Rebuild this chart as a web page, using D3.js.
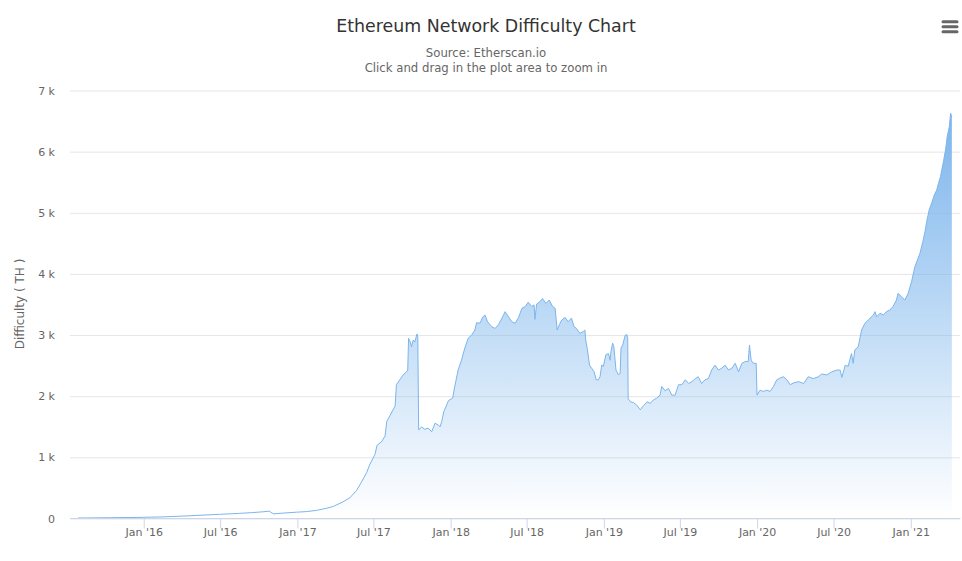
<!DOCTYPE html>
<html>
<head>
<meta charset="utf-8">
<script src="https://cdn.jsdelivr.net/npm/d3@7"></script>
<style>
  html, body { margin: 0; padding: 0; background: #fff; }
  svg { display: block; font-family: "DejaVu Sans", Verdana, Arial, sans-serif; }
</style>
</head>
<body>
<svg id="chart" width="962" height="561"></svg>
<script>
// ---- data (difficulty in TH) ----
const dates = [
  "2015-07-30","2015-09-01","2015-10-15","2015-12-01","2016-01-01","2016-02-15","2016-04-01","2016-05-15",
  "2016-07-01","2016-08-15","2016-09-15","2016-10-10","2016-10-27","2016-11-06","2016-11-29","2016-12-31",
  "2017-01-24","2017-02-17","2017-03-13","2017-03-29","2017-04-21","2017-05-07","2017-05-23","2017-06-04",
  "2017-06-16","2017-06-24","2017-07-06","2017-07-11","2017-07-22","2017-07-30","2017-08-03","2017-08-11",
  "2017-08-18","2017-08-23","2017-08-26","2017-09-03","2017-09-11","2017-09-19","2017-09-22","2017-09-24",
  "2017-09-28","2017-10-01","2017-10-05","2017-10-09","2017-10-14","2017-10-16","2017-10-18","2017-10-25",
  "2017-11-02","2017-11-10","2017-11-18","2017-11-26","2017-12-04","2017-12-08","2017-12-12","2017-12-17",
  "2017-12-24","2017-12-28","2018-01-07","2018-01-12","2018-01-20","2018-01-28","2018-02-05","2018-02-13",
  "2018-02-21","2018-03-01","2018-03-05","2018-03-13","2018-03-20","2018-03-25","2018-03-31","2018-04-10",
  "2018-04-18","2018-04-26","2018-05-06","2018-05-12","2018-05-20","2018-05-28","2018-06-05","2018-06-13",
  "2018-06-21","2018-06-29","2018-07-06","2018-07-14","2018-07-20","2018-07-22","2018-07-26","2018-08-03",
  "2018-08-09","2018-08-17","2018-08-25","2018-09-02","2018-09-08","2018-09-13","2018-09-18","2018-09-24",
  "2018-10-02","2018-10-09","2018-10-17","2018-10-23","2018-10-29","2018-11-06","2018-11-14","2018-11-18",
  "2018-11-20","2018-11-24","2018-11-29","2018-12-04","2018-12-10","2018-12-15","2018-12-20","2018-12-24",
  "2018-12-28","2019-01-01","2019-01-07","2019-01-13","2019-01-17","2019-01-19","2019-01-23","2019-01-26",
  "2019-01-31","2019-02-06","2019-02-10","2019-02-12","2019-02-16","2019-02-22","2019-02-26","2019-02-28",
  "2019-03-01","2019-03-07","2019-03-13","2019-03-21","2019-03-30","2019-04-07","2019-04-15","2019-04-23",
  "2019-04-30","2019-05-08","2019-05-16","2019-05-20","2019-05-28","2019-06-05","2019-06-13","2019-06-21",
  "2019-06-29","2019-07-07","2019-07-15","2019-07-23","2019-07-31","2019-08-08","2019-08-15","2019-08-23",
  "2019-08-31","2019-09-08","2019-09-16","2019-09-24","2019-10-02","2019-10-10","2019-10-18","2019-10-26",
  "2019-11-03","2019-11-11","2019-11-19","2019-11-27","2019-12-05","2019-12-12","2019-12-15","2019-12-19",
  "2019-12-24","2019-12-31","2020-01-02","2020-01-09","2020-01-17","2020-01-25","2020-02-02","2020-02-10",
  "2020-02-18","2020-02-26","2020-03-05","2020-03-13","2020-03-21","2020-03-29","2020-04-10","2020-04-22",
  "2020-05-03","2020-05-15","2020-05-27","2020-06-04","2020-06-16","2020-06-28","2020-07-10","2020-07-18",
  "2020-07-22","2020-07-30","2020-08-06","2020-08-14","2020-08-18","2020-08-22","2020-08-30","2020-09-07",
  "2020-09-15","2020-09-23","2020-10-05","2020-10-09","2020-10-13","2020-10-21","2020-10-29","2020-11-05",
  "2020-11-13","2020-11-21","2020-11-29","2020-12-03","2020-12-11","2020-12-19","2020-12-27","2021-01-04",
  "2021-01-12","2021-01-18","2021-01-24","2021-01-31","2021-02-05","2021-02-09","2021-02-15","2021-02-21",
  "2021-02-27","2021-03-05","2021-03-09","2021-03-14","2021-03-21","2021-03-26","2021-03-30","2021-04-04",
  "2021-04-07","2021-04-10"
];
const difficulty = [
  0,2,5,8,11,18,30,45,
  60,75,88,100,112,68,80,95,
  105,125,160,190,265,330,450,590,
  740,880,1040,1190,1250,1340,1580,1680,
  1770,1830,2180,2260,2340,2390,2420,2940,
  2880,2800,2910,2880,3010,2970,1440,1490,
  1450,1470,1410,1550,1520,1490,1580,1740,
  1850,1920,1960,2150,2420,2580,2780,2940,
  2990,3075,3195,3185,3290,3320,3210,3130,
  3100,3160,3290,3375,3290,3210,3185,3280,
  3430,3460,3530,3460,3485,3250,3500,3540,
  3590,3510,3565,3460,3430,3075,3160,3240,
  3280,3210,3270,3130,3100,3020,3050,3075,
  2910,2750,2500,2450,2390,2260,2260,2310,
  2500,2480,2670,2690,2580,2720,2860,2800,
  2420,2340,2370,2780,2830,2990,3000,2940,
  1950,1900,1890,1850,1770,1840,1900,1875,
  1930,1960,2010,2150,2080,2120,2010,2010,
  2180,2180,2260,2200,2230,2280,2310,2200,
  2260,2280,2420,2500,2420,2450,2500,2420,
  2450,2530,2390,2530,2560,2560,2830,2580,
  2530,2530,2010,2090,2070,2090,2070,2150,
  2260,2290,2310,2260,2180,2210,2230,2200,
  2310,2280,2310,2355,2340,2390,2420,2420,
  2300,2500,2480,2690,2530,2750,2800,3075,
  3185,3240,3320,3375,3290,3350,3320,3375,
  3400,3460,3565,3675,3620,3565,3675,3865,
  4110,4220,4330,4520,4680,4845,5040,5150,
  5280,5365,5470,5585,5830,6020,6240,6400,
  6620,6560
];
const yTicks = [0, 1000, 2000, 3000, 4000, 5000, 6000, 7000];
const xTickDates = ["2016-01-01","2016-07-01","2017-01-01","2017-07-01","2018-01-01","2018-07-01",
  "2019-01-01","2019-07-01","2020-01-01","2020-07-01","2021-01-01"];
const xDomain = ["2015-07-10T14:00:00Z", "2021-04-29T10:00:00Z"];
const titleText = "Ethereum Network Difficulty Chart";
const subtitleLines = ["Source: Etherscan.io", "Click and drag in the plot area to zoom in"];
const yAxisTitle = "Difficulty ( TH )";

// ---- layout ----
const W = 962, H = 561;
const plot = { left: 70, right: 960, top: 90, bottom: 518 };
const color = "#7cb5ec";

const svg = d3.select("#chart");
const parse = s => new Date(s.length > 10 ? s : s + "T00:00:00Z");
const data = dates.map((d, i) => ({ date: parse(d), value: difficulty[i] }));

const x = d3.scaleUtc().domain(xDomain.map(parse)).range([plot.left, plot.right]);
const y = d3.scaleLinear().domain([0, 7000]).range([plot.bottom, plot.top]);

// title & subtitle
svg.append("text").attr("x", 486).attr("y", 32).attr("text-anchor", "middle")
  .attr("font-size", 17.4).attr("fill", "#333333").text(titleText);
subtitleLines.forEach((t, i) => {
  svg.append("text").attr("x", 486).attr("y", 57 + i * 15).attr("text-anchor", "middle")
    .attr("font-size", 11.7).attr("fill", "#666666").text(t);
});

// hamburger menu
const menu = svg.append("g").attr("stroke", "#666666").attr("stroke-width", 3).attr("stroke-linecap", "round");
[21.7, 26.7, 31.7].forEach(yy => menu.append("line").attr("x1", 943).attr("x2", 957).attr("y1", yy).attr("y2", yy));

// grid lines
const yAxis = d3.axisLeft(y).tickValues(yTicks).tickSize(-(plot.right - plot.left)).tickPadding(15)
  .tickFormat(v => v === 0 ? "0" : (v / 1000) + " k");
const gy = svg.append("g").attr("transform", `translate(${plot.left},0.5)`).call(yAxis);
gy.select(".domain").remove();
gy.selectAll(".tick line").attr("stroke", "#e6e6e6");
gy.selectAll(".tick text").attr("fill", "#666666").attr("font-size", 11)
  .attr("font-family", "DejaVu Sans, Verdana, Arial, sans-serif").attr("x", -15).attr("dy", "0.32em");

// y axis title
svg.append("text").attr("transform", `translate(24,${(plot.top + plot.bottom) / 2}) rotate(-90)`)
  .attr("text-anchor", "middle").attr("font-size", 12).attr("fill", "#666666").text(yAxisTitle);

// gradient
const maxV = d3.max(difficulty);
const defs = svg.append("defs");
const grad = defs.append("linearGradient").attr("id", "areaGrad")
  .attr("gradientUnits", "userSpaceOnUse")
  .attr("x1", 0).attr("x2", 0).attr("y1", y(maxV)).attr("y2", y(0));
grad.append("stop").attr("offset", 0).attr("stop-color", color).attr("stop-opacity", 1);
grad.append("stop").attr("offset", 1).attr("stop-color", color).attr("stop-opacity", 0);

// area + line
const area = d3.area().x(d => x(d.date)).y0(y(0)).y1(d => y(d.value));
const line = d3.line().x(d => x(d.date)).y(d => y(d.value));
svg.append("path").datum(data).attr("d", area).attr("fill", "url(#areaGrad)");
svg.append("path").datum(data).attr("d", line).attr("fill", "none")
  .attr("stroke", color).attr("stroke-width", 1).attr("stroke-linejoin", "round");

// x axis
const xAxis = d3.axisBottom(x).tickValues(xTickDates.map(parse)).tickSize(10).tickPadding(5)
  .tickFormat(d3.utcFormat("%b '%y"));
const gx = svg.append("g").attr("transform", `translate(0.5,${plot.bottom + 0.5})`).call(xAxis);
gx.select(".domain").attr("stroke", "#ccd6eb").attr("d", `M${plot.left - 0.5},0H${plot.right}`);
gx.selectAll(".tick line").attr("stroke", "#ccd6eb");
gx.selectAll(".tick text").attr("fill", "#666666").attr("font-size", 11)
  .attr("font-family", "DejaVu Sans, Verdana, Arial, sans-serif").attr("y", 10).attr("dy", "0.71em");
</script>
</body>
</html>
